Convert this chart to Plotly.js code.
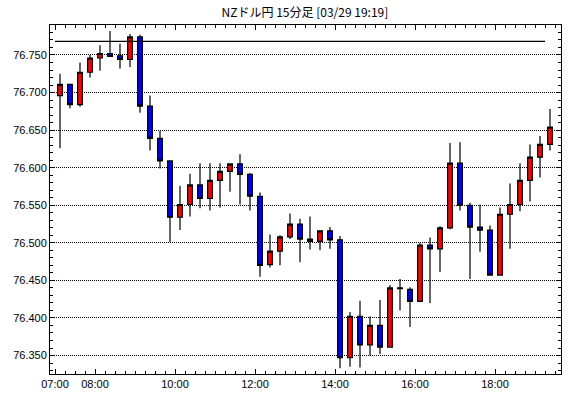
<!DOCTYPE html>
<html>
<head>
<meta charset="utf-8">
<script src="https://cdn.plot.ly/plotly-3.0.1.min.js"></script>
<style>html,body{margin:0;padding:0;background:#fff;}#chart{width:570px;height:398px;}</style>
</head>
<body>
<div id="chart"></div>
<script>
var day = '2024-03-29';
var times = ['07:00','07:15','07:30','07:45','08:00','08:15','08:30','08:45','09:00','09:15',
             '09:30','09:45','10:00','10:15','10:30','10:45','11:00','11:15','11:30','11:45',
             '12:00','12:15','12:30','12:45','13:00','13:15','13:30','13:45','14:00','14:15',
             '14:30','14:45','15:00','15:15','15:30','15:45','16:00','16:15','16:30','16:45',
             '17:00','17:15','17:30','17:45','18:00','18:15','18:30','18:45','19:00','19:15'];
var open  = [76.696,76.711,76.684,76.727,76.746,76.752,76.749,76.744,76.774,76.682,
             76.639,76.609,76.534,76.551,76.577,76.559,76.583,76.595,76.605,76.591,
             76.562,76.471,76.489,76.508,76.525,76.505,76.502,76.516,76.504,76.347,
             76.402,76.364,76.390,76.361,76.440,76.438,76.422,76.497,76.492,76.520,
             76.606,76.550,76.521,76.517,76.457,76.538,76.551,76.583,76.614,76.631];
var high  = [76.725,76.711,76.740,76.750,76.763,76.782,76.765,76.778,76.777,76.696,
             76.649,76.610,76.576,76.592,76.606,76.606,76.606,76.606,76.618,76.593,
             76.567,76.511,76.510,76.539,76.532,76.535,76.516,76.521,76.509,76.408,
             76.423,76.402,76.424,76.444,76.452,76.441,76.500,76.507,76.522,76.633,
             76.634,76.553,76.551,76.523,76.547,76.579,76.606,76.631,76.642,76.678];
var low   = [76.626,76.679,76.681,76.720,76.729,76.748,76.732,76.734,76.673,76.623,
             76.599,76.501,76.517,76.535,76.546,76.543,76.547,76.568,76.551,76.543,
             76.455,76.467,76.470,76.505,76.474,76.491,76.490,76.492,76.333,76.335,
             76.334,76.350,76.352,76.361,76.410,76.388,76.422,76.420,76.461,76.518,
             76.543,76.452,76.488,76.457,76.457,76.492,76.542,76.555,76.587,76.623];
var close = [76.711,76.684,76.727,76.746,76.752,76.748,76.744,76.774,76.682,76.639,
             76.609,76.534,76.551,76.577,76.559,76.583,76.595,76.605,76.591,76.562,
             76.470,76.489,76.508,76.525,76.505,76.502,76.516,76.504,76.347,76.402,
             76.364,76.390,76.361,76.440,76.439,76.422,76.497,76.492,76.520,76.606,
             76.550,76.521,76.517,76.457,76.538,76.551,76.583,76.614,76.631,76.654];
var lineLevel = 76.768;
var lineStart = '07:00';
var lineEnd = '19:15';
var tickTimes = ['07:00','08:00','10:00','12:00','14:00','16:00','18:00'];
var tickLabels = ['07:00','08:00','10:00','12:00','14:00','16:00','18:00'];

function toDate(hm, addSec) {
  var p = hm.split(':');
  var s = parseInt(p[0],10)*3600 + parseInt(p[1],10)*60 + (addSec||0);
  var h = Math.floor(s/3600), m = Math.floor((s%3600)/60), sec = s%60;
  function z(n){return (n<10?'0':'')+n;}
  return day + ' ' + z(h) + ':' + z(m) + ':' + z(sec);
}
var xCenters = times.map(function(t){ return toDate(t, 450); });

var candle = {
  type: 'candlestick',
  x: xCenters, open: open, high: high, low: low, close: close,
  increasing: {fillcolor: '#ff0000', line: {color: '#000000', width: 1.2}},
  decreasing: {fillcolor: '#0000ff', line: {color: '#000000', width: 1.2}},
  whiskerwidth: 0,
  hoverinfo: 'none',
  showlegend: false
};
var hline = {
  type: 'scatter', mode: 'lines',
  x: [toDate(lineStart,0), toDate(lineEnd,0)],
  y: [lineLevel, lineLevel],
  line: {color: '#000000', width: 1.3},
  hoverinfo: 'none', showlegend: false
};

var fontL = {family: 'Liberation Sans, Arial, sans-serif', size: 11, color: '#000'};
var layout = {
  width: 570, height: 398,
  margin: {l: 50, r: 9, t: 25, b: 24},
  paper_bgcolor: '#ffffff', plot_bgcolor: '#ffffff',
  showlegend: false,
  boxgap: 0.32,
  title: {text: 'NZドル円 15分足 [03/29 19:19]',
          font: {family: 'Noto Sans CJK JP, sans-serif', size: 12, color: '#000'},
          x: 0.535, xanchor: 'center', y: 0.968, yanchor: 'middle'},
  xaxis: {
    type: 'date',
    range: [toDate('06:52',30), toDate('19:39',0)],
    tickmode: 'array',
    tickvals: tickTimes.map(function(t){return toDate(t,0);}),
    ticktext: tickLabels,
    ticks: 'inside', ticklen: 5, tickcolor: '#000', tickwidth: 1,
    showline: true, linecolor: '#000', linewidth: 1, mirror: 'ticks',
    showgrid: false, zeroline: false,
    tickfont: fontL,
    rangeslider: {visible: false},
    minor: {ticks: 'inside', ticklen: 3, tickcolor: '#000', dtick: 900000,
            tick0: toDate('07:00',0), showgrid: false}
  },
  yaxis: {
    range: [76.3254, 76.7899],
    tick0: 76.35, dtick: 0.05, tickformat: '.3f',
    ticks: 'inside', ticklen: 5, tickcolor: '#000', tickwidth: 1,
    showline: true, linecolor: '#000', linewidth: 1, mirror: 'ticks',
    showgrid: true, gridcolor: '#000', gridwidth: 1, griddash: '1px,1px',
    zeroline: false,
    tickfont: fontL,
    minor: {ticks: 'inside', ticklen: 3, tickcolor: '#000', dtick: 0.01, showgrid: false}
  }
};
Plotly.newPlot('chart', [candle, hline], layout, {displayModeBar: false, staticPlot: true});
</script>
</body>
</html>
